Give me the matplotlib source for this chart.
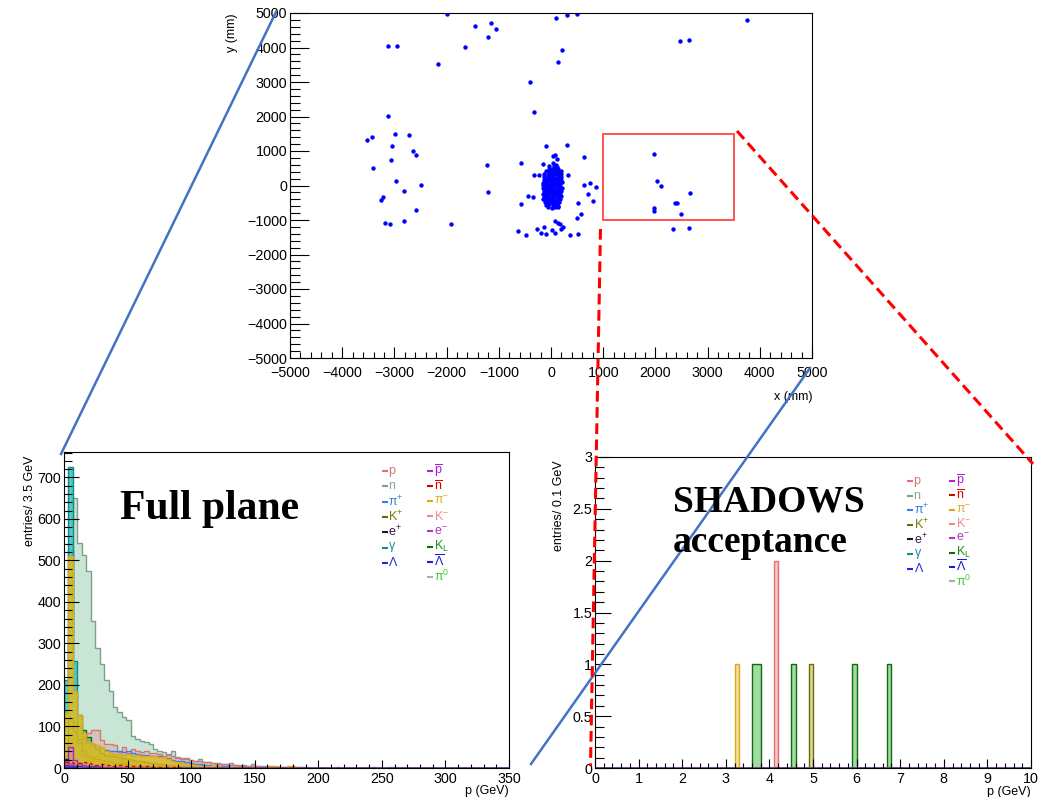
import numpy as np
import matplotlib
matplotlib.use("Agg")
import matplotlib.pyplot as plt
from matplotlib.patches import Rectangle
from matplotlib.ticker import MultipleLocator, FuncFormatter

plt.rcParams['font.family'] = ['Liberation Sans', 'DejaVu Sans']
plt.rcParams['mathtext.fontset'] = 'custom'
plt.rcParams['mathtext.rm'] = 'Liberation Sans'
plt.rcParams['mathtext.it'] = 'Liberation Sans'
plt.rcParams['mathtext.default'] = 'regular'
plt.rcParams['axes.unicode_minus'] = True

# ---------------- hit map on the plane (mm) ----------------
halo_hits = [
    (-2000, 4980), (-1460, 4625), (-1145, 4710), (-1060, 4540), (-1205, 4290), (-1645, 4020),
    (-3125, 4030), (-2955, 4030), (-2170, 3520), (100, 4855), (310, 4935), (495, 4980),
    (210, 3925), (130, 3585), (3755, 4790), (2480, 4185), (2640, 4230), (-400, 3010), (-325, 2135),
    (-3115, 2020), (-3525, 1310), (-3425, 1405), (-2980, 1500), (-2720, 1460), (-3045, 1135),
    (-2650, 990), (-2595, 875), (-3060, 730), (-3405, 520), (-2965, 125), (-2500, 20), (-2825, -145),
    (-3220, -335), (-3265, -415), (-2585, -720), (-3185, -1075), (-3075, -1105), (-2810, -1020),
    (-1910, -1125), (-1225, 605), (-1205, -175), (-580, 655), (-90, 1135), (297, 1175), (634, 835),
    (319, 300), (626, 20), (751, 75), (868, -40), (700, -240), (810, -450), (516, -500), (-580, -530),
    (-435, -290), (-340, -340), (-325, 315), (-231, 300), (-158, 625), (-40, 575), (575, -815), (502, -935),
    (-634, -1315), (-473, -1435), (-275, -1250), (-128, -1200), (-201, -1365), (-92, -1395),
    (18, -1290), (77, -1030), (135, -1075), (77, -1365), (172, -1125), (201, -1250), (223, -1200),
    (370, -1435), (516, -1395),
    (2335, -1250), (2641, -1221),
]
window_hits = [
    (1967, 905), (2033, 125), (2114, -20), (2656, -220), (2385, -500), (2421, -505),
    (1982, -655), (1967, -740), (2494, -840),
]
core_hits = [
    (30, 640), (90, 600), (60, 560), (120, 540), (33, 864), (77, 884), (110, 760),
    (-40, 470), (20, 490), (80, 480), (140, 465),
    (-100, 410), (-40, 395), (25, 420), (85, 405), (140, 390), (185, 415),
    (-125, 330), (-65, 315), (-5, 340), (50, 320), (105, 335), (160, 310), (200, 325),
    (-135, 245), (-80, 230), (-20, 255), (35, 240), (90, 225), (145, 250), (200, 235),
    (-140, 165), (-90, 150), (-30, 170), (20, 155), (75, 175), (130, 160), (185, 150),
    (-150, 85), (-95, 70), (-40, 90), (15, 75), (65, 95), (120, 80), (175, 70), (215, 90),
    (-145, 5), (-90, -10), (-35, 10), (20, -5), (70, 15), (125, 0), (180, -10),
    (-155, -75), (-100, -90), (-45, -70), (5, -85), (60, -95), (110, -70), (165, -85), (210, -75),
    (-140, -165), (-85, -150), (-30, -170), (25, -155), (80, -145), (135, -170), (190, -160),
    (-150, -235), (-95, -250), (-40, -230), (10, -245), (65, -260), (120, -240), (175, -250),
    (-130, -325), (-75, -310), (-20, -335), (35, -320), (90, -305), (145, -330), (200, -315),
    (-145, -405), (-90, -390), (-35, -410), (20, -395), (75, -420), (130, -400), (180, -385),
    (-110, -475), (-55, -490), (0, -470), (55, -485), (110, -495), (160, -470),
    (-90, -565), (-30, -550), (30, -570), (90, -555), (140, -580),
    (-60, -630), (10, -650), (80, -635), (130, -620),
]
window_x = (1000, 3500)
window_y = (-1000, 1500)

# ---------------- momentum spectra, full plane (3.5 GeV bins) ----------------
p_counts = [10, 40, 60, 70, 78, 84, 91, 91, 67, 59, 58, 55, 39, 51, 35, 45, 40, 38, 42, 36,
            35, 33, 30, 32, 28, 25, 22, 24, 20, 18, 16, 15, 14, 12, 10, 9, 10, 8, 7, 6,
            5, 6, 4, 4, 3, 3, 5, 3, 2, 2, 3, 2, 3, 3, 2, 0, 0, 0, 0, 0, 0, 3, 0, 0, 0,
            0, 0, 0, 0, 3]
n_counts = [60, 320, 650, 542, 513, 475, 355, 290, 250, 211, 186, 148, 135, 122, 115, 76, 71, 64,
            63, 58, 45, 41, 38, 34, 40, 27, 24, 21, 20, 18, 22, 15, 14, 12, 12, 10, 9, 11, 8,
            7, 7, 6, 10, 5, 4, 4, 3, 3, 2, 3, 2, 2, 1, 2, 1, 1, 0, 1, 0, 1, 0, 0, 1, 0, 0,
            0, 0, 0, 0, 0, 0, 0, 0, 2, 2]
pip_counts = [120, 524, 186, 100, 72, 60, 55, 50, 47, 44, 42, 40, 42, 38, 40, 36, 33, 31, 32, 29,
              30, 28, 26, 24, 20, 18, 16, 14, 12, 10, 9, 8, 7, 6, 5, 5, 4, 3, 3, 2, 2, 1, 1, 1]
kp_counts = [30, 120, 90, 60, 40, 30, 25, 22, 20, 18, 15, 13, 12, 10, 9, 8, 7, 6, 5, 5,
             4, 4, 3, 3, 2, 2, 2, 1, 1, 1]
ep_counts = [22, 10, 6, 4, 3, 2, 2, 1, 1]
gamma_counts = [211, 725, 257, 70, 30, 16, 9, 5, 3, 2, 1, 1]
lam_counts = [8, 6, 5, 4, 3, 3, 2, 2, 1, 1]
pbar_counts = [5, 51, 20, 12, 8, 6, 5, 4, 3, 3, 2, 2, 2, 1, 1, 1]
nbar_counts = [15, 14, 12, 13, 15, 11, 9, 8, 10, 7, 8, 6, 7, 6, 5, 5, 6, 4, 4, 3, 3, 3, 2, 2,
               2, 2, 1, 1, 1, 1]
pim_counts = [133, 511, 185, 127, 85, 62, 58, 55, 50, 40, 35, 33, 34, 31, 33, 30, 31, 29, 30, 28,
              30, 27, 26, 22, 18, 15, 12, 10, 9, 8, 6, 5, 5, 4, 4, 3, 3, 2, 2, 2, 1, 1, 1, 0,
              0, 0, 4, 5, 0, 0, 5, 4]
km_counts = [20, 70, 50, 40, 30, 25, 20, 18, 15, 13, 12, 10, 9, 8, 7, 6, 5, 5, 4, 4, 3, 3, 2, 2,
             2, 1, 1, 1]
em_counts = [20, 9, 5, 4, 3, 2, 1, 1]
kl_counts = [15, 60, 110, 127, 91, 75, 59, 45, 36, 32, 30, 29, 27, 25, 22, 20, 18, 16, 14, 12,
             11, 10, 9, 8, 7, 6, 5, 4, 4, 3, 3, 2, 2, 2, 1, 1]
lambar_counts = [3, 2, 2, 1, 1]
pi0_counts = []

# ---------------- momenta of particles inside the acceptance (GeV) ----------------
acc_p = [4.15, 4.15]
acc_kp = [4.95]
acc_pim = [3.25]
acc_kl = [3.65, 3.75, 4.55, 5.95, 6.75]

# species: legend label, line colour, legend text colour, fill colour
species = {
    'p':      (r'p', '#e07272', '#e07272', '#e88080'),
    'n':      (r'n', '#7f9f8d', '#86a896', '#c4e3d1'),
    'pip':    (r'$\pi^{+}$', '#3a80e0', '#3a80e0', '#6aa0e8'),
    'kp':     (r'$K^{+}$', '#6b6b00', '#7c7c08', '#b0a830'),
    'ep':     (r'$e^{+}$', '#2a0a38', '#3a1048', '#604070'),
    'gamma':  (r'$\gamma$', '#138c8c', '#1a8e9e', '#3ec6c0'),
    'lam':    (r'$\Lambda$', '#2424e0', '#2a2ae0', '#6060f0'),
    'pbar':   (r'$\overline{p}$', '#b01ee0', '#a81ed8', '#c860f0'),
    'nbar':   (r'$\overline{n}$', '#d80000', '#e00000', '#f06060'),
    'pim':    (r'$\pi^{-}$', '#dca81a', '#e0b028', '#e6bc1c'),
    'km':     (r'$K^{-}$', '#f08a8a', '#f08a8a', '#f4a0a0'),
    'em':     (r'$e^{-}$', '#b832c0', '#b832c0', '#d080d8'),
    'kl':     (r'$K_{L}$', '#106a10', '#1e8e1e', '#30b030'),
    'lambar': (r'$\overline{\Lambda}$', '#1c1cd0', '#1c1cd0', '#6060f0'),
    'pi0':    (r'$\pi^{0}$', '#98b898', '#3ad03a', '#80e080'),
}
full_counts = {
    'n': n_counts, 'p': p_counts, 'pip': pip_counts, 'km': km_counts, 'kl': kl_counts,
    'gamma': gamma_counts, 'kp': kp_counts, 'pim': pim_counts, 'pbar': pbar_counts,
    'ep': ep_counts, 'em': em_counts, 'lam': lam_counts, 'pi0': pi0_counts,
    'lambar': lambar_counts, 'nbar': nbar_counts,
}
full_alpha = {'n': 0.9, 'p': 0.3, 'pip': 0.25, 'km': 0.2, 'kl': 0.5, 'gamma': 0.9, 'kp': 0.35,
              'pim': 0.8, 'pbar': 0.25, 'ep': 0.2, 'em': 0.2, 'lam': 0.2, 'pi0': 0.2,
              'lambar': 0.2, 'nbar': 0.2}
acc_momenta = {'p': acc_p, 'kp': acc_kp, 'pim': acc_pim, 'kl': acc_kl}
draw_order = ['n', 'p', 'pip', 'km', 'kl', 'gamma', 'kp', 'pim', 'pbar', 'ep', 'em',
              'lam', 'pi0', 'lambar', 'nbar']
legend_col1 = ['p', 'n', 'pip', 'kp', 'ep', 'gamma', 'lam']
legend_col2 = ['pbar', 'nbar', 'pim', 'km', 'em', 'kl', 'lambar', 'pi0']

full_edges = np.linspace(0, 350, 101)
acc_edges = np.linspace(0, 10, 101)

W, H = 1041, 797
fig = plt.figure(figsize=(W / 100, H / 100), dpi=100)


def axes_px(left, top, right, bottom):
    return fig.add_axes([left / W, 1 - bottom / H, (right - left) / W, (bottom - top) / H])


def root_style(ax, xmaj, xmin, ymaj, ymin, xlen, ylen, xpad=3):
    ax.xaxis.set_major_locator(MultipleLocator(xmaj))
    ax.xaxis.set_minor_locator(MultipleLocator(xmin))
    ax.yaxis.set_major_locator(MultipleLocator(ymaj))
    ax.yaxis.set_minor_locator(MultipleLocator(ymin))
    ax.tick_params(which='both', direction='in', top=False, right=False, width=0.8,
                   labelsize=10.3)
    ax.tick_params(axis='x', which='major', length=xlen[0], pad=xpad)
    ax.tick_params(axis='x', which='minor', length=xlen[1])
    ax.tick_params(axis='y', which='major', length=ylen[0], pad=2)
    ax.tick_params(axis='y', which='minor', length=ylen[1])
    fmt = FuncFormatter(lambda v, _: ('%g' % v).replace('-', '\u2212'))
    ax.xaxis.set_major_formatter(fmt)
    ax.yaxis.set_major_formatter(fmt)
    for s in ax.spines.values():
        s.set_linewidth(0.8)


def draw_hist(ax, edges, counts, key, alpha):
    label, line_c, text_c, face_c = species[key]
    if np.any(counts > 0):
        ax.stairs(counts, edges, baseline=0, fill=True, color=face_c, alpha=alpha, lw=0)
    ls = (0, (2.5, 2.5)) if key == 'nbar' else '-'
    ax.stairs(counts, edges, baseline=0, color=line_c, lw=1.0, ls=ls)


def padded(values, n):
    arr = np.zeros(n)
    arr[:len(values)] = values
    return arr


# ---------------- x-y hit map ----------------
ax_xy = axes_px(290, 13, 812, 358)
all_hits = halo_hits + window_hits + core_hits
hx = [h[0] for h in all_hits]
hy = [h[1] for h in all_hits]
ax_xy.scatter(hx, hy, s=10, c='#0000ff', linewidths=0)
ax_xy.add_patch(Rectangle((window_x[0], window_y[0]), window_x[1] - window_x[0],
                          window_y[1] - window_y[0], fill=False, ec='#ff4646', lw=1.3))
ax_xy.set_xlim(-5000, 5000)
ax_xy.set_ylim(-5000, 5000)
root_style(ax_xy, 1000, 200, 1000, 200, (8, 4.3), (13.5, 7), xpad=5.5)
ax_xy.set_xlabel('x (mm)', fontsize=9, loc='right')
ax_xy.xaxis.set_label_coords(1.0, -0.095)
ax_xy.set_ylabel('y (mm)', fontsize=9, loc='top')
ax_xy.yaxis.set_label_coords(-0.1, 1.0)

# ---------------- full plane spectrum ----------------
ax_full = axes_px(64, 452, 509, 768)
for key in draw_order:
    draw_hist(ax_full, full_edges, padded(full_counts[key], 100), key, full_alpha[key])
ax_full.set_xlim(0, 350)
ax_full.set_ylim(0, 1.05 * max(gamma_counts))
root_style(ax_full, 50, 10, 100, 20, (6, 3.2), (10.8, 5.8))
ax_full.set_xlabel('p (GeV)', fontsize=9, loc='right')
ax_full.xaxis.set_label_coords(1.0, -0.055)
ax_full.set_ylabel('entries/ 3.5 GeV', fontsize=9, loc='top')
ax_full.yaxis.set_label_coords(-0.062, 0.99)

# ---------------- acceptance spectrum ----------------
ax_acc = axes_px(595, 457, 1031, 768)
for key in draw_order:
    counts = np.histogram(acc_momenta.get(key, []), bins=acc_edges)[0].astype(float)
    draw_hist(ax_acc, acc_edges, counts, key, 0.45)
ax_acc.set_xlim(0, 10)
ax_acc.set_ylim(0, 3)
root_style(ax_acc, 1, 0.2, 0.5, 0.1, (6.5, 3.4), (11.5, 6.5))
ax_acc.set_xlabel('p (GeV)', fontsize=9, loc='right')
ax_acc.xaxis.set_label_coords(1.0, -0.058)
ax_acc.set_ylabel('entries/ 0.1 GeV', fontsize=9, loc='top')
ax_acc.yaxis.set_label_coords(-0.068, 0.99)

# ---------------- overlay in pixel space: titles, legends, zoom guides ----------------
ov = fig.add_axes([0, 0, 1, 1], zorder=10)
ov.set_xlim(0, W)
ov.set_ylim(H, 0)
ov.axis('off')
ov.patch.set_alpha(0)

serif = ['Liberation Serif', 'DejaVu Serif']
ov.text(120, 519, 'Full plane', family=serif, weight='bold', fontsize=30, va='baseline')
ov.text(673, 511, 'SHADOWS', family=serif, weight='bold', fontsize=27, va='baseline')
ov.text(673, 552, 'acceptance', family=serif, weight='bold', fontsize=27, va='baseline')


def draw_legend(x1, x2, y0, step1, step2):
    for col, xs, step in ((legend_col1, x1, step1), (legend_col2, x2, step2)):
        for i, key in enumerate(col):
            label, line_c, text_c, _ = species[key]
            y = y0 + i * step
            ov.plot([xs, xs + 6], [y, y], color=line_c, lw=1.5, solid_capstyle='butt')
            ov.text(xs + 6.5, y, label, color=text_c, fontsize=9, va='center', ha='left')


draw_legend(382, 427, 471, 15.3, 15.1)
draw_legend(907, 949, 481, 14.6, 14.3)

blue = '#4472c4'
ov.plot([61, 276], [454, 12], color=blue, lw=1.8)
ov.plot([531, 810], [764, 368], color=blue, lw=1.8)
ov.plot([600.5, 590.5], [229, 766], color='#ff0000', lw=2.2, dashes=(3.5, 1.8))
ov.plot([737, 1033], [131, 464], color='#ff0000', lw=2.2, dashes=(3.5, 1.8))

fig.savefig('out.png', dpi=100)
